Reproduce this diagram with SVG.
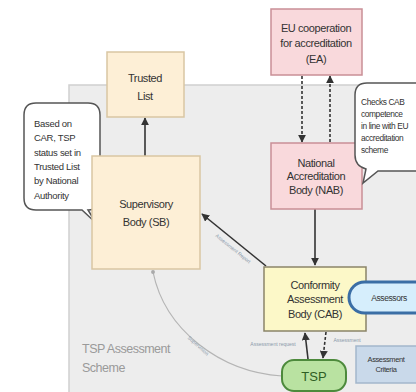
<svg xmlns="http://www.w3.org/2000/svg" width="416" height="392" viewBox="0 0 416 392">
<defs>
<marker id="ah" viewBox="0 0 10 10" refX="9" refY="5" markerWidth="5" markerHeight="5" orient="auto-start-reverse"><path d="M0,0 L10,5 L0,10 z" fill="#333"/></marker>
<marker id="dot" viewBox="0 0 10 10" refX="5" refY="5" markerWidth="4" markerHeight="4"><circle cx="5" cy="5" r="4" fill="#aaa"/></marker>
</defs>
<style>
.t{font-family:"Liberation Sans",Arial,sans-serif;fill:#333;text-anchor:middle;letter-spacing:-0.4px}
.n{font-size:11px}
.c{font-size:9.5px;text-anchor:start;letter-spacing:-0.3px}
.c2{font-size:8.4px;text-anchor:start;letter-spacing:-0.4px}
.lbl{font-size:5px;fill:#8a99aa;letter-spacing:0}
.peach{fill:#fdefd6;stroke:#d9c6a3;stroke-width:1.5}
.pink{fill:#f9d9dc;stroke:#c98f96;stroke-width:1.5}
.callout{fill:#fff;stroke:#555;stroke-width:1.5}
.arr{stroke:#333;stroke-width:1.6;fill:none}
</style>
<rect width="416" height="392" fill="#fff"/>
<g id="scheme">
<rect x="69" y="85" width="360" height="320" fill="#ededed" stroke="#d0d0d0" stroke-width="1.5"/>
<text class="t" x="82" y="353" style="font-size:12.5px;fill:#9a9a9a;text-anchor:start;letter-spacing:-0.5px">TSP Assessment</text>
<text class="t" x="82" y="372" style="font-size:12.5px;fill:#9a9a9a;text-anchor:start;letter-spacing:-0.5px">Scheme</text>
</g>
<g id="connectors">
<path class="arr" d="M145,156 L145,118" marker-end="url(#ah)"/>
<path class="arr" d="M302,76 L302,142" stroke-dasharray="3,2" marker-end="url(#ah)"/>
<path class="arr" d="M330,142 L330,76" stroke-dasharray="3,2" marker-end="url(#ah)"/>
<path class="arr" d="M315,209 L315,265" marker-end="url(#ah)"/>
<path class="arr" d="M266,266 L202,214" marker-end="url(#ah)"/>
<text class="t lbl" transform="translate(232,250) rotate(39)">Assessment Report</text>
<path d="M153,272 C165,330 220,372 282,376" fill="none" stroke="#b5b5b5" stroke-width="1.2" marker-start="url(#dot)"/>
<text class="t lbl" transform="translate(197,347) rotate(42)">Supervision</text>
<path class="arr" d="M308,359 L305,333" stroke-width="1.4" marker-end="url(#ah)"/>
<text class="t lbl" x="273" y="346">Assessment request</text>
<path class="arr" d="M326,332 L323,358" stroke-width="1.4" stroke-dasharray="3,2" marker-end="url(#ah)"/>
<text class="t lbl" x="347" y="342">Assessment</text>
</g>
<g id="trusted-list">
<rect class="peach" x="107" y="52" width="77" height="65"/>
<text class="t n" x="145" y="82">Trusted</text>
<text class="t n" x="145" y="100">List</text>
</g>
<g id="callout-sb">
<path class="callout" d="M36,103 H88 Q100,103 100,115 V198 Q100,210 88,210 L96,223 L82,210 H36 Q24,210 24,198 V115 Q24,103 36,103 Z"/>
<text class="t c" x="34" y="127">Based on</text>
<text class="t c" x="34" y="141">CAR, TSP</text>
<text class="t c" x="34" y="156">status set in</text>
<text class="t c" x="34" y="170">Trusted List</text>
<text class="t c" x="34" y="184">by National</text>
<text class="t c" x="34" y="199">Authority</text>
</g>
<g id="supervisory-body">
<rect class="peach" x="92" y="156" width="108" height="113"/>
<text class="t n" x="146" y="208">Supervisory</text>
<text class="t n" x="146" y="226">Body (SB)</text>
</g>
<g id="ea">
<rect class="pink" x="271" y="9" width="91" height="66"/>
<text class="t n" x="316" y="32">EU cooperation</text>
<text class="t n" x="316" y="47">for accreditation</text>
<text class="t n" x="316" y="63">(EA)</text>
</g>
<g id="nab">
<rect class="pink" x="271" y="143" width="91" height="66"/>
<text class="t n" x="316" y="167">National</text>
<text class="t n" x="316" y="180">Accreditation</text>
<text class="t n" x="316" y="194">Body (NAB)</text>
</g>
<g id="callout-nab">
<path class="callout" d="M367,83 H430 V171 H378 L363,183 L366,169 Q355,166 355,155 V95 Q355,83 367,83 Z"/>
<text class="t c2" x="361" y="105">Checks CAB</text>
<text class="t c2" x="361" y="117">competence</text>
<text class="t c2" x="361" y="129">in line with EU</text>
<text class="t c2" x="361" y="141">accreditation</text>
<text class="t c2" x="361" y="153">scheme</text>
</g>
<g id="cab">
<rect x="264" y="267" width="102" height="64" fill="#fcf8c8" stroke="#8a8468" stroke-width="1.5"/>
<text class="t n" x="315" y="289">Conformity</text>
<text class="t n" x="315" y="303">Assessment</text>
<text class="t n" x="315" y="318">Body (CAB)</text>
</g>
<g id="assessors">
<rect x="349" y="282" width="90" height="31" rx="15.5" fill="#d6eefc" stroke="#3b6ea5" stroke-width="3"/>
<text class="t" x="389" y="301" style="font-size:8.5px">Assessors</text>
</g>
<g id="tsp">
<rect x="282" y="360" width="64" height="31" rx="12" fill="#b9e2a1" stroke="#4d8a3c" stroke-width="2"/>
<text class="t" x="314" y="381" style="font-size:13px;fill:#2f5e24;letter-spacing:0">TSP</text>
</g>
<g id="criteria">
<rect x="356" y="346" width="70" height="37" fill="#c9d9ea" stroke="#a3b6cb" stroke-width="1.5"/>
<text class="t" x="386" y="362" style="font-size:7.5px">Assessment</text>
<text class="t" x="386" y="372" style="font-size:7.5px">Criteria</text>
</g>
</svg>
